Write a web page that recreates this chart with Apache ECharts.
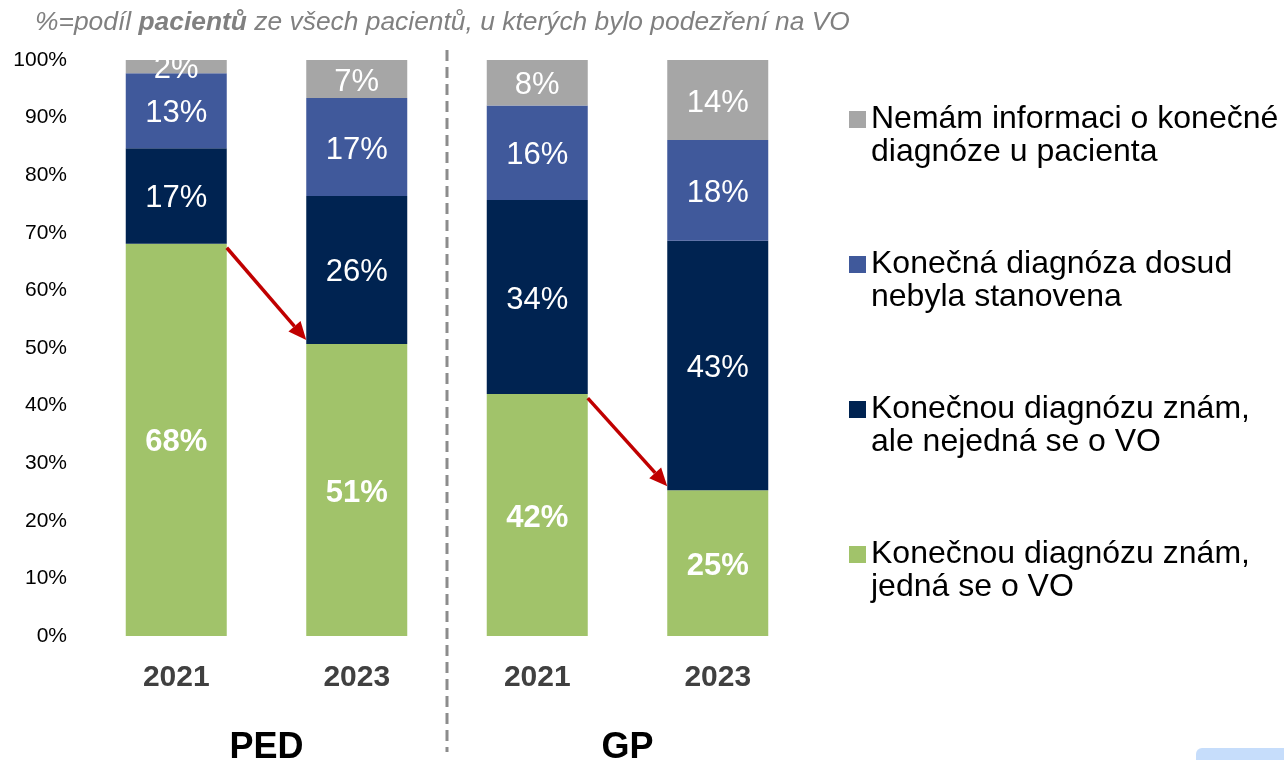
<!DOCTYPE html>
<html>
<head>
<meta charset="utf-8">
<script src="https://cdn.jsdelivr.net/npm/echarts@6/dist/echarts.min.js"></script>
<style>
  html, body { margin: 0; padding: 0; background: #fff; }
  #chart { width: 1284px; height: 760px; }
</style>
</head>
<body>
<div id="chart"></div>
<script>
// Years per bar, grouped by clinic type
const categories = ['2021', '2023', '2021', '2023'];
const groups = ['PED', 'GP'];

// Segment shares (%), bottom to top
const knownVO = [68.1, 50.7, 42.0, 25.3];
const knownNotVO = [16.6, 25.7, 33.7, 43.3];
const notYetDiagnosed = [13.0, 17.0, 16.4, 17.5];
const noInformation = [2.3, 6.6, 7.9, 13.9];

const yTicks = [0, 100, 10];

const seriesNames = [
  'Konečnou diagnózu znám,\njedná se o VO',
  'Konečnou diagnózu znám,\nale nejedná se o VO',
  'Konečná diagnóza dosud\nnebyla stanovena',
  'Nemám informaci o konečné\ndiagnóze u pacienta'
];

const colors = ['#A1C36A', '#002351', '#40599B', '#A6A6A6'];
const FONT = '"Liberation Sans", Arial, sans-serif';

const chart = echarts.init(document.getElementById('chart'));

function barSeries(name, data, color, bold) {
  return {
    name: name,
    type: 'bar',
    stack: 'total',
    barWidth: 101,
    data: data,
    itemStyle: { color: color },
    label: {
      show: true,
      position: 'inside',
      offset: [0, 3],
      color: '#fff',
      fontFamily: FONT,
      fontSize: 31,
      fontWeight: bold ? 'bold' : 'normal',
      formatter: p => Math.round(p.value) + '%'
    }
  };
}

const option = {
  animation: false,
  textStyle: { fontFamily: FONT },
  title: {
    left: 30,
    top: 5,
    text: '{i|%=podíl }{b|pacientů}{i| ze všech pacientů, u kterých bylo podezření na VO}',
    textStyle: {
      fontWeight: 'normal',
      rich: {
        i: { fontFamily: FONT, fontStyle: 'italic', fontWeight: 'normal', fontSize: 26.4, color: '#808080' },
        b: { fontFamily: FONT, fontStyle: 'italic', fontWeight: 'bold', fontSize: 26.4, color: '#808080' }
      }
    }
  },
  grid: { left: 86, right: 476, top: 60, bottom: 124, outerBoundsMode: 'none' },
  legend: {
    orient: 'vertical',
    left: 849,
    top: 70,
    padding: 0,
    icon: 'rect',
    itemWidth: 17,
    itemHeight: 17,
    itemGap: 46,
    data: seriesNames.slice().reverse(),
    // leading blank line keeps the square level with the first text line
    formatter: name => '\n' + name,
    textStyle: {
      fontFamily: FONT,
      fontSize: 32,
      lineHeight: 33,
      color: '#000'
    }
  },
  xAxis: [{
    type: 'category',
    data: categories,
    axisLine: { show: false },
    axisTick: { show: false },
    axisLabel: {
      margin: 27,
      fontFamily: FONT,
      fontSize: 30,
      fontWeight: 'bold',
      color: '#404040'
    }
  }, {
    type: 'category',
    data: groups,
    position: 'bottom',
    offset: 86,
    axisLine: { show: false },
    axisTick: { show: false },
    axisLabel: {
      margin: 8,
      fontFamily: FONT,
      fontSize: 36,
      fontWeight: 'bold',
      color: '#000'
    }
  }],
  yAxis: {
    type: 'value',
    min: yTicks[0],
    max: yTicks[1],
    interval: yTicks[2],
    axisLine: { show: false },
    axisTick: { show: false },
    splitLine: { show: false },
    axisLabel: {
      margin: 19,
      fontFamily: FONT,
      fontSize: 21,
      color: '#000',
      formatter: '{value}%'
    }
  },
  series: [
    barSeries(seriesNames[0], knownVO, colors[0], true),
    barSeries(seriesNames[1], knownNotVO, colors[1], false),
    barSeries(seriesNames[2], notYetDiagnosed, colors[2], false),
    barSeries(seriesNames[3], noInformation, colors[3], false)
  ]
};

chart.setOption(option);

// Overlays: separator between groups and red arrows showing the drop of VO share
function px(i, v) {
  return chart.convertToPixel({ gridIndex: 0 }, [i, v]);
}

function arrow(fromIdx, toIdx) {
  const half = 101 / 2;
  const a = px(fromIdx, knownVO[fromIdx]);
  const b = px(toIdx, knownVO[toIdx]);
  const x1 = a[0] + half, y1 = a[1] + 4;
  const x2 = b[0] - half, y2 = b[1] - 4;
  const ang = Math.atan2(y2 - y1, x2 - x1);
  const len = 18, w = 8;
  const bx = x2 - len * Math.cos(ang), by = y2 - len * Math.sin(ang);
  return [{
    type: 'line',
    shape: { x1: x1, y1: y1, x2: bx, y2: by },
    style: { stroke: '#C00000', lineWidth: 3.5 },
    z: 100
  }, {
    type: 'polygon',
    shape: {
      points: [
        [x2, y2],
        [bx + w * Math.sin(ang), by - w * Math.cos(ang)],
        [bx - w * Math.sin(ang), by + w * Math.cos(ang)]
      ]
    },
    style: { fill: '#C00000' },
    z: 100
  }];
}

const sepX = (px(1, 0)[0] + px(2, 0)[0]) / 2;

chart.setOption({
  graphic: [
    {
      type: 'line',
      shape: { x1: sepX, y1: 50, x2: sepX, y2: 752 },
      style: { stroke: '#8C8C8C', lineWidth: 3, lineDash: [11, 6] }
    },
    {
      type: 'rect',
      shape: { x: 1196, y: 748, width: 100, height: 20, r: 6 },
      style: { fill: '#C6DDFB' }
    }
  ].concat(arrow(0, 1), arrow(2, 3))
});

window.addEventListener('resize', () => chart.resize());
</script>
</body>
</html>
